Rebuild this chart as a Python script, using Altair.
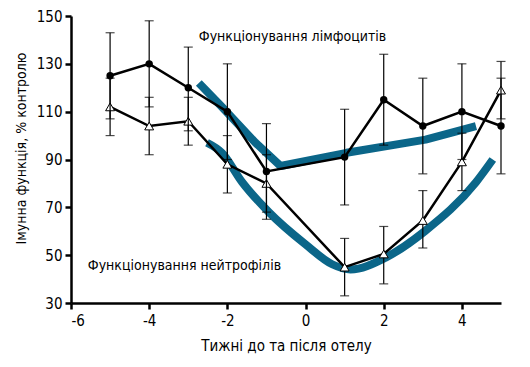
import altair as alt
import pandas as pd

FONT = "Liberation Sans Narrow, Arial Narrow, DejaVu Sans Condensed, sans-serif"
BLUE = "#0b6689"

weeks = [-5, -4, -3, -2, -1, 1, 2, 3, 4, 5]
lymph = [125, 130, 120, 110, 85, 91, 115, 104, 110, 104]
lymph_hi = [143, 148, 137, 130, 105, 111, 134, 124, 130, 124]
lymph_lo = [107, 112, 102, 90, 65, 71, 96, 84, 90, 84]
neut = [112, 104, 106, 88, 80, 45, 50.5, 64.5, 89, 119]
neut_hi = [124, 116, 116, 100, 92, 57, 62, 77, 101, 131]
neut_lo = [100, 92, 96, 76, 68, 33, 38, 53, 77, 107]

lymph_trend_x = [-2.73, -2.14, -1.28, -0.64, 1.05, 3.07, 4.36]
lymph_trend_y = [122, 112, 97, 87.3, 92.8, 98.3, 104]
neut_trend_x = [-2.52, -2.14, -1.62, -0.94, 0, 0.68, 1.15, 2.05, 3.05, 4.36, 4.79]
neut_trend_y = [97, 92.8, 80.5, 68, 54.5, 46.2, 44, 49, 60, 80.5, 90]

labels = ["Функціонування лімфоцитів", "Функціонування нейтрофілів"]
label_x = [-2.73, -5.57]
label_y = [141.4, 45.5]

x_ticks = [-6, -4, -2, 0, 2, 4]
y_ticks = [30, 50, 70, 90, 110, 130, 150]

df_l = pd.DataFrame({"w": weeks, "v": lymph, "lo": lymph_lo, "hi": lymph_hi})
df_n = pd.DataFrame({"w": weeks, "v": neut, "lo": neut_lo, "hi": neut_hi})
df_tl = pd.DataFrame({"w": lymph_trend_x, "v": lymph_trend_y})
df_tn = pd.DataFrame({"w": neut_trend_x, "v": neut_trend_y})
df_lab = pd.DataFrame({"w": label_x, "v": label_y, "t": labels})

xs = alt.Scale(domain=[-6, 5], nice=False, zero=False)
ys = alt.Scale(domain=[30, 150], nice=False, zero=False)

X = alt.X("w:Q", scale=xs, axis=alt.Axis(values=x_ticks, title="Тижні до та після отелу",
                                          labelExpr="toString(datum.value)"))
Y = alt.Y("v:Q", scale=ys, axis=alt.Axis(values=y_ticks, title="Імунна функція, % контролю", titleY=132))

trend_l = alt.Chart(df_tl).mark_line(color=BLUE, strokeWidth=8, strokeCap="butt", strokeJoin="round").encode(x=X, y=Y)
trend_n = alt.Chart(df_tn).mark_line(color=BLUE, strokeWidth=8, strokeCap="butt", interpolate="monotone").encode(x=X, y=Y)

def series(df, filled):
    rule = alt.Chart(df).mark_rule(color="black", strokeWidth=1.2).encode(x=X, y="lo:Q", y2="hi:Q")
    cap_lo = alt.Chart(df).mark_tick(color="black", orient="horizontal", size=9, thickness=1.2).encode(x=X, y=alt.Y("lo:Q", scale=ys))
    cap_hi = alt.Chart(df).mark_tick(color="black", orient="horizontal", size=9, thickness=1.2).encode(x=X, y=alt.Y("hi:Q", scale=ys))
    line = alt.Chart(df).mark_line(color="black", strokeWidth=2.5).encode(x=X, y=Y)
    if filled:
        pts = alt.Chart(df).mark_point(shape="circle", filled=True, color="black", size=55, opacity=1).encode(x=X, y=Y)
    else:
        pts = alt.Chart(df).mark_point(shape="triangle-up", fill="white", stroke="black", strokeWidth=1, size=80, opacity=1, fillOpacity=1).encode(x=X, y=Y)
    return [rule, cap_lo, cap_hi, line, pts]

text = alt.Chart(df_lab).mark_text(align="left", baseline="middle", font=FONT, fontSize=14, color="black").encode(
    x=alt.X("w:Q", scale=xs), y=alt.Y("v:Q", scale=ys), text="t:N")

chart = alt.layer(trend_l, trend_n, *series(df_n, False), *series(df_l, True), text).properties(
    width=430, height=287,
    autosize=alt.AutoSizeParams(type="none"),
    padding={"left": 63, "top": 8, "right": 21, "bottom": 56},
).configure_view(stroke=None).configure_axis(
    grid=False,
    domainColor="black", domainWidth=2.5,
    tickColor="black", tickWidth=2.5, tickSize=6,
    labelColor="black", labelFont=FONT, labelFontSize=15, labelPadding=3,
    titleColor="black", titleFont=FONT, titleFontSize=14, titleFontWeight="normal",
).configure_axisX(labelPadding=4, titlePadding=10, titleFontSize=15).configure_axisY(titlePadding=8)

chart.save("out.html", embed_options={"renderer": "svg", "actions": False})
